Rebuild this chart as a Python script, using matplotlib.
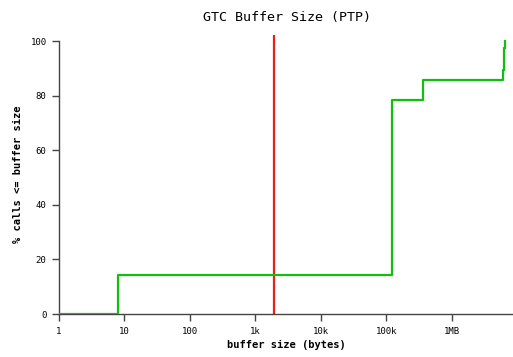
import numpy as np
import matplotlib
matplotlib.use("Agg")
import matplotlib.pyplot as plt
from matplotlib.ticker import FixedLocator, NullLocator

# cumulative distribution of buffer sizes (bytes -> % of calls)
buf_sizes = [1, 8, 120000, 360000, 6.0e6, 6.2e6, 6.45e6]
pct_calls = [0, 14.3, 78.5, 85.7, 89.4, 97.4, 100]
marker_size = 1900  # red reference line

xticks = [1, 10, 100, 1e3, 1e4, 1e5, 1e6]
xticklabels = ['1', '10', '100', '1k', '10k', '100k', '1MB']
yticks = [0, 20, 40, 60, 80, 100]

plt.rcParams['font.family'] = ['DejaVu Sans Mono']

fig = plt.figure(figsize=(5.13, 3.57), dpi=100)
ax = fig.add_axes([59/513, 1-314/357, 454/513, (314-35)/357])

ax.axvline(marker_size, color='#e8201a', lw=1.6, zorder=2)
ax.step(buf_sizes, pct_calls, where='post', color='#10c010', lw=1.6, zorder=3)

ax.set_xscale('log')
ax.set_xlim(1, 10**(454/65.5))
ax.set_ylim(0, 102.2)
ax.xaxis.set_major_locator(FixedLocator(xticks))
ax.xaxis.set_minor_locator(NullLocator())
ax.set_xticklabels(xticklabels)
ax.set_yticks(yticks)

for s in ['top', 'right']:
    ax.spines[s].set_visible(False)
ax.spines['left'].set_bounds(0, 100)
for s in ['left', 'bottom']:
    ax.spines[s].set_color('#444444')
    ax.spines[s].set_linewidth(1)
ax.tick_params(direction='out', length=5, width=1, color='#444444',
               labelsize=6.5, pad=4)

ax.set_xlabel('buffer size (bytes)', fontsize=7.5, fontweight='bold', labelpad=3)
ax.set_ylabel('% calls <= buffer size', fontsize=7.5, fontweight='bold', labelpad=5)
fig.text(287/513, 1-17/357, 'GTC Buffer Size (PTP)', ha='center', va='center',
         fontsize=9.6)

fig.savefig('out.png', dpi=100)
